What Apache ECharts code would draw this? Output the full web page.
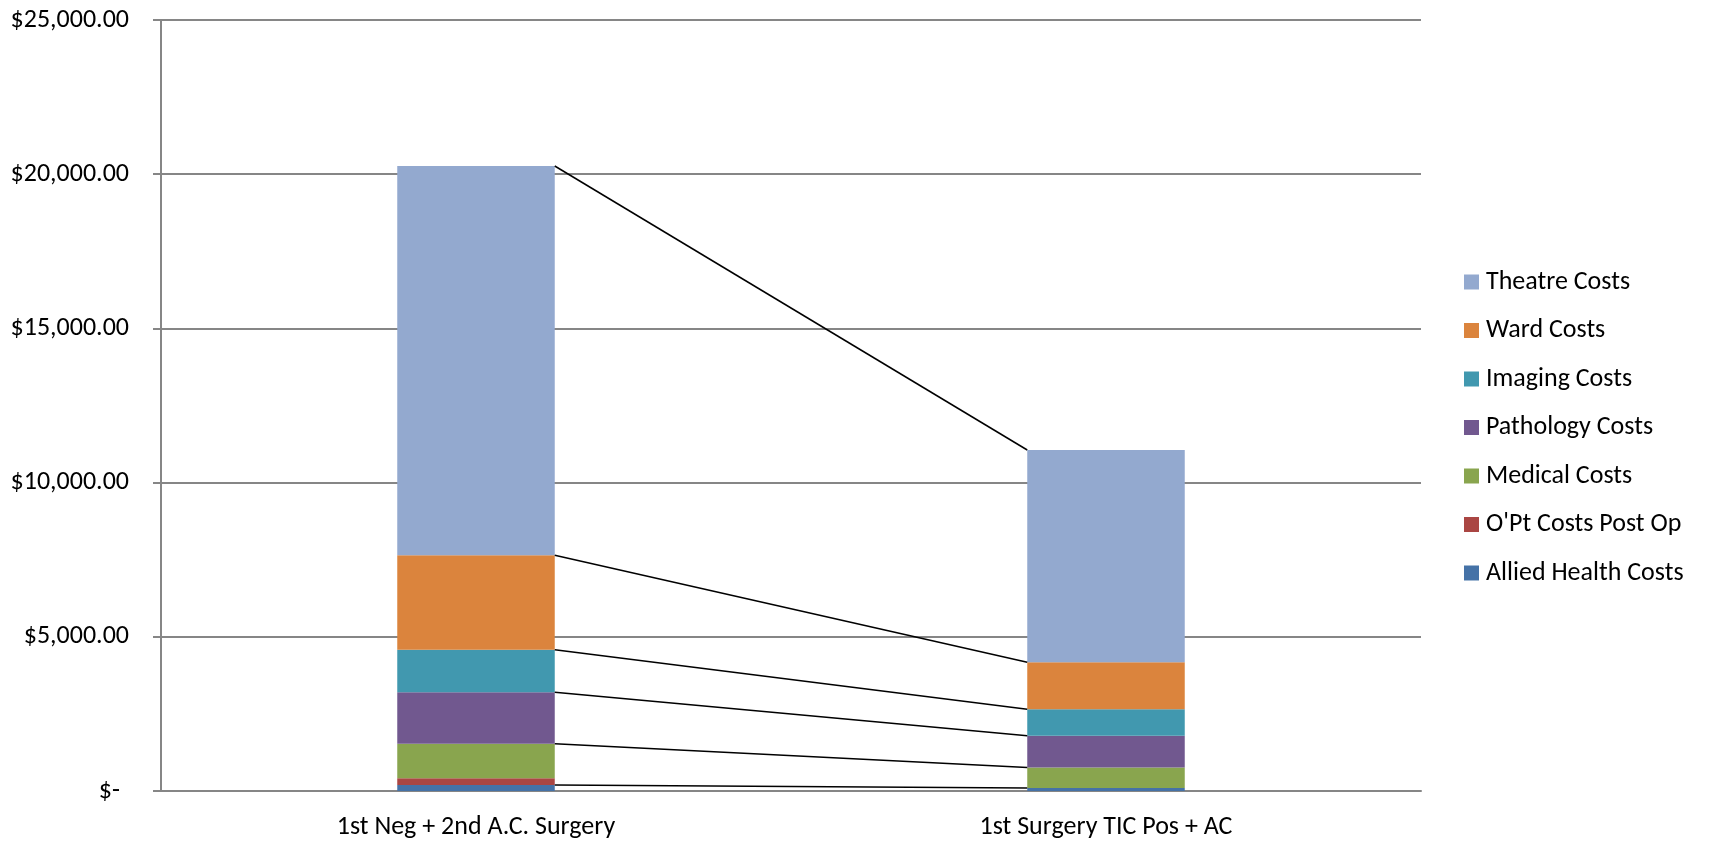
<!DOCTYPE html>
<html>
<head>
<meta charset="utf-8">
<title>Surgery cost breakdown</title>
<script src="https://cdn.jsdelivr.net/npm/echarts@6/dist/echarts.min.js"></script>
<style>
  html, body { margin: 0; padding: 0; background: #ffffff; }
  #chart { width: 1709px; height: 842px; }
</style>
</head>
<body>
<div id="chart"></div>
<script>
// Pathways compared
const categories = ['1st Neg + 2nd A.C. Surgery', '1st Surgery TIC Pos + AC'];

// Cost components per pathway (AUD), stacked from the bottom up
const alliedHealth = [195, 97];
const optPostOp   = [217, null];
const medical     = [1122, 665];
const pathology   = [1666, 1031];
const imaging     = [1382, 856];
const ward        = [3061, 1524];
const theatre     = [12623, 6884];

// Value axis ticks
const yTicks = [0, 5000, 10000, 15000, 20000, 25000];

const FONT = 'Carlito, Calibri, Lato, sans-serif';
const FONT_SIZE = 26;

const stackOrder = [
  { name: 'Allied Health Costs', data: alliedHealth, color: '#4572A7' },
  { name: "O'Pt Costs Post Op",  data: optPostOp,    color: '#AA4643' },
  { name: 'Medical Costs',       data: medical,      color: '#89A54E' },
  { name: 'Pathology Costs',     data: pathology,    color: '#71588F' },
  { name: 'Imaging Costs',       data: imaging,      color: '#4198AF' },
  { name: 'Ward Costs',          data: ward,         color: '#DB843D' },
  { name: 'Theatre Costs',       data: theatre,      color: '#93A9CF' }
];

const BAR_FRACTION = 0.25;

// Running totals at the top of each component, used for the series lines
const seriesLines = [];
const running = [0, 0];
stackOrder.forEach(s => {
  const present = s.data.map(v => v != null);
  s.data.forEach((v, i) => { if (v != null) running[i] += v; });
  if (present[0] && present[1]) {
    seriesLines.push([0, running[0], running[1]]);
  }
});

const barSeries = stackOrder.map(s => ({
  name: s.name,
  type: 'bar',
  stack: 'cost',
  barWidth: (BAR_FRACTION * 100) + '%',
  itemStyle: { color: s.color },
  emphasis: { disabled: true },
  data: s.data.map(v => (v == null ? '-' : v))
}));

const linkSeries = {
  type: 'custom',
  name: 'links',
  silent: true,
  z: 5,
  encode: { x: 0, y: [1, 2] },
  renderItem: function (params, api) {
    const band = api.size([1, 0])[0];
    const half = band * BAR_FRACTION / 2;
    const p1 = api.coord([0, api.value(1)]);
    const p2 = api.coord([1, api.value(2)]);
    return {
      type: 'line',
      shape: { x1: p1[0] + half, y1: p1[1], x2: p2[0] - half, y2: p2[1] },
      style: { stroke: '#000000', lineWidth: 1.5 }
    };
  },
  data: seriesLines
};

const chart = echarts.init(document.getElementById('chart'), null, { renderer: 'canvas' });

chart.setOption({
  animation: false,
  backgroundColor: '#ffffff',
  textStyle: { fontFamily: FONT },
  grid: { left: 161, right: 288, top: 20, bottom: 51, containLabel: false },
  legend: {
    orient: 'vertical',
    left: 1459,
    top: 264,
    itemWidth: 15,
    itemHeight: 15,
    itemGap: 22.5,
    icon: 'rect',
    textStyle: { fontFamily: FONT, fontSize: FONT_SIZE, color: '#000000', padding: [0, 0, 0, 2] },
    data: stackOrder.slice().reverse().map(s => s.name)
  },
  xAxis: {
    type: 'category',
    data: categories,
    axisLine: { lineStyle: { color: '#868686', width: 2 } },
    axisTick: { show: false },
    axisLabel: { fontFamily: FONT, fontSize: FONT_SIZE, color: '#000000', margin: 23 }
  },
  yAxis: {
    type: 'value',
    min: yTicks[0],
    max: yTicks[yTicks.length - 1],
    interval: yTicks[1] - yTicks[0],
    axisLine: { show: true, lineStyle: { color: '#868686', width: 2 } },
    axisTick: { show: true, length: 8, lineStyle: { color: '#868686', width: 2 } },
    splitLine: { show: true, lineStyle: { color: '#868686', width: 2 } },
    axisLabel: {
      fontFamily: FONT,
      fontSize: FONT_SIZE,
      color: '#000000',
      margin: 32,
      formatter: function (v) {
        if (v === 0) return '{dash|$-}';
        return '$' + v.toLocaleString('en-US', { minimumFractionDigits: 2, maximumFractionDigits: 2 });
      },
      rich: {
        dash: { fontFamily: FONT, fontSize: FONT_SIZE, color: '#000000', padding: [0, 9, 0, 0] }
      }
    }
  },
  series: barSeries.concat([linkSeries])
});
</script>
</body>
</html>
